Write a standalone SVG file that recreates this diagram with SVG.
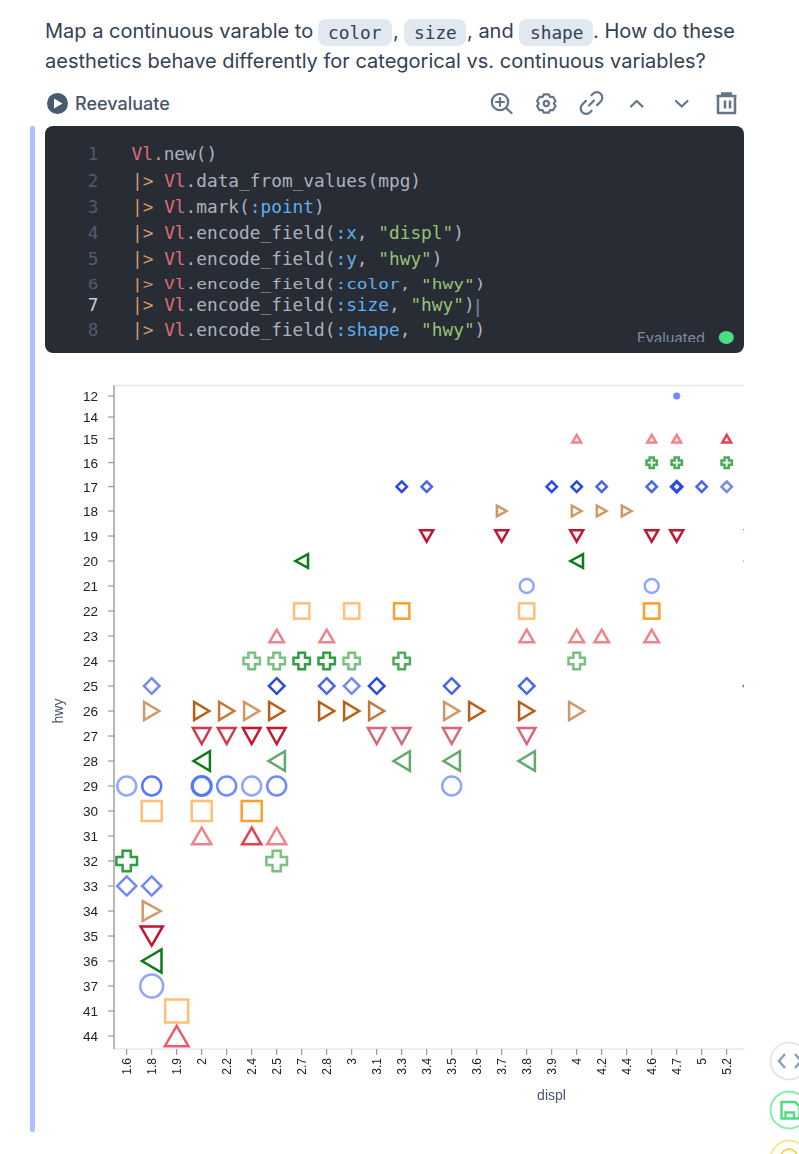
<svg xmlns="http://www.w3.org/2000/svg" width="799" height="1154" viewBox="0 0 799 1154">
<style>
text{white-space:pre}
.q{font:400 20px Inter,"Liberation Sans",sans-serif;fill:#334155}
.pill{fill:#e2e8f0}
.pt{font:17.8px "DejaVu Sans Mono","Liberation Mono",monospace;fill:#334155}
.ic{fill:none;stroke:#64748b;stroke-width:2.2;stroke-linecap:round;stroke-linejoin:round}
.c{font:17.8px "DejaVu Sans Mono","Liberation Mono",monospace;fill:#abb2bf}
.n{fill:#4f5b71;text-anchor:middle}
.r{fill:#e06c75}.o{fill:#d19a66}.b{fill:#61afef}.g{fill:#98c379}
.yl{font:13.5px "Liberation Sans",Arial,sans-serif;fill:#222;text-anchor:end}
.xl{font:12px "Liberation Sans",Arial,sans-serif;fill:#222;text-anchor:end}
.ttl{font:14px "Liberation Sans",Arial,sans-serif;fill:#475569;text-anchor:middle}
.tk{stroke:#888;stroke-width:1}
.m{fill:none;stroke-width:2.5}
.a{opacity:.65}.e{opacity:.85}.f{opacity:1}
.up{stroke:#e4434f}.sq{stroke:#ff9d2e}.ci{stroke:#5577ff}.lf{stroke:#0f7a1a}.dn{stroke:#c4162e}.rt{stroke:#b85f15}.di{stroke:#2a4be0}.cr{stroke:#2f9e3f}
</style>
<defs>
<filter id="soft" x="-2%" y="-2%" width="104%" height="104%"><feGaussianBlur stdDeviation="0.4"/></filter>
<clipPath id="plot"><rect x="110" y="380" width="634" height="690"/></clipPath>
<clipPath id="evalclip"><rect x="620" y="325" width="100" height="17"/></clipPath>
<path id="r15" d="M0,-3.8L4.4,3.8L-4.4,3.8Z"/>
<path id="r23" d="M0,-6.3L7.3,6.3L-7.3,6.3Z"/>
<path id="r31" d="M0,-8.3L9.6,8.3L-9.6,8.3Z"/>
<path id="r44" d="M0,-10.2L11.8,10.2L-11.8,10.2Z"/>
<path id="r19" d="M0,5.7L6.5,-5.7L-6.5,-5.7Z"/>
<path id="r27" d="M0,8L8.8,-8L-8.8,-8Z"/>
<path id="r35" d="M0,9.6L11.1,-9.6L-11.1,-9.6Z"/>
<path id="r18" d="M4.85,0L-4.85,-5.3L-4.85,5.3Z"/>
<path id="r26" d="M7.6,0L-7.6,-9.1L-7.6,9.1Z"/>
<path id="r34" d="M9,0L-9,-9.9L-9,9.9Z"/>
<path id="r20" d="M-6.3,0L6.3,-6.8L6.3,6.8Z"/>
<path id="r28" d="M-8.2,0L8.2,-9.8L8.2,9.8Z"/>
<path id="r36" d="M-9.8,0L9.8,-11.6L9.8,11.6Z"/>
<rect id="r22" x="-7.65" y="-7.65" width="15.3" height="15.3"/>
<rect id="r30" x="-10" y="-10" width="20" height="20"/>
<rect id="r41" x="-11.5" y="-11.5" width="23" height="23"/>
<circle id="r12" r="1.8"/>
<circle id="r21" r="7"/>
<circle id="r29" r="9.5"/>
<circle id="r37" r="11.5"/>
<path id="r17" d="M0,-5.2L5.2,0L0,5.2L-5.2,0Z"/>
<path id="r25" d="M0,-7.8L7.8,0L0,7.8L-7.8,0Z"/>
<path id="r33" d="M0,-9.6L9.6,0L0,9.6L-9.6,0Z"/>
<path id="r16" d="M-5.2,-2.1H-2.1V-5.2H2.1V-2.1H5.2V2.1H2.1V5.2H-2.1V2.1H-5.2Z"/>
<path id="r24" d="M-8.2,-3.3H-3.3V-8.2H3.3V-3.3H8.2V3.3H3.3V8.2H-3.3V3.3H-8.2Z"/>
<path id="r32" d="M-10.3,-4.1H-4.1V-10.3H4.1V-4.1H10.3V4.1H4.1V10.3H-4.1V4.1H-10.3Z"/>
</defs>
<rect width="799" height="1154" fill="#fff"/>

<g id="question">
<rect class="pill" x="318" y="19" width="74" height="27" rx="8"/>
<rect class="pill" x="404" y="19" width="62" height="27" rx="8"/>
<rect class="pill" x="519" y="19" width="74" height="27" rx="8"/>
<text class="q" x="45" y="38">Map a continuous varable to</text>
<text class="pt" x="328" y="38.5">color</text>
<text class="q" x="393" y="38">,</text>
<text class="pt" x="414" y="38.5">size</text>
<text class="q" x="467" y="38">, and</text>
<text class="pt" x="530" y="38.5">shape</text>
<text class="q" x="593" y="38">. How do these</text>
<text class="q" x="45" y="68">aesthetics behave differently for categorical vs. continuous variables?</text>
</g>

<g id="toolbar">
<circle cx="57.5" cy="103.5" r="10.5" fill="#475a70"/>
<path d="M54,98.5L62.5,103.5L54,108.5Z" fill="#fff"/>
<text x="75" y="110" style="font:500 18px Inter,'Liberation Sans',sans-serif;fill:#475569">Reevaluate</text>
<g class="ic">
<circle cx="500" cy="102" r="8.2"/><path d="M506,108L511.5,113M500,98V106M496,102H504"/>
<path transform="translate(546.3,103.5)" d="M-2.46,-9.18L2.46,-9.18L3.75,-6.5L6.72,-6.72L9.18,-2.46L7.5,0L9.18,2.46L6.72,6.72L3.75,6.5L2.46,9.18L-2.46,9.18L-3.75,6.5L-6.72,6.72L-9.18,2.46L-7.5,0L-9.18,-2.46L-6.72,-6.72L-3.75,-6.5Z"/><circle cx="546.3" cy="103.5" r="2.6"/>
<path transform="rotate(-45 591.5 103)" d="M589,97.5H584A5.5,5.5 0 0 0 584,108.5H586M594,108.5H599A5.5,5.5 0 0 0 599,97.5H597M588,103H595"/>
<path d="M631,106.5L636.7,101L642.5,106.5"/>
<path d="M676,101L681.7,106.5L687.5,101"/>
<path d="M718,96.5V113H735V96.5M716.5,96H736.5M725,100.5V108.5M730,100.5V108.5M721,93.5H732" style="stroke-linecap:butt;stroke-width:2.5"/>
</g>
</g>

<rect id="cell-bar" x="30" y="126" width="5" height="1006" rx="2" fill="#b0bfff"/>

<g id="code">
<rect x="45" y="126" width="699" height="227" rx="8" fill="#282c34"/>
<text class="c n" x="93" y="160">1</text>
<text class="c n" x="93" y="186.7">2</text>
<text class="c n" x="93" y="213">3</text>
<text class="c n" x="93" y="239">4</text>
<text class="c n" x="93" y="265">5</text>
<text class="c n" transform="translate(93,289) scale(1,.75)">6</text>
<text class="c n" x="93" y="311" style="fill:#c8ccd4">7</text>
<text class="c n" x="93" y="336">8</text>
<text class="c" x="131.5" y="160"><tspan class="r">Vl</tspan><tspan class="o">.</tspan>new()</text>
<text class="c" x="132" y="186.7"><tspan class="o">|&gt; </tspan><tspan class="r">Vl</tspan>.data_from_values(mpg)</text>
<text class="c" x="132" y="213"><tspan class="o">|&gt; </tspan><tspan class="r">Vl</tspan>.mark(<tspan class="b">:point</tspan>)</text>
<text class="c" x="132" y="239"><tspan class="o">|&gt; </tspan><tspan class="r">Vl</tspan>.encode_field(<tspan class="b">:x</tspan>, <tspan class="g">"displ"</tspan>)</text>
<text class="c" x="132" y="265"><tspan class="o">|&gt; </tspan><tspan class="r">Vl</tspan>.encode_field(<tspan class="b">:y</tspan>, <tspan class="g">"hwy"</tspan>)</text>
<text class="c" transform="translate(132,289) scale(1,.75)"><tspan class="o">|&gt; </tspan><tspan class="r">Vl</tspan>.encode_field(<tspan class="b">:color</tspan>, <tspan class="g">"hwy"</tspan>)</text>
<text class="c" x="132" y="311"><tspan class="o">|&gt; </tspan><tspan class="r">Vl</tspan>.encode_field(<tspan class="b">:size</tspan>, <tspan class="g">"hwy"</tspan>)</text>
<text class="c" x="132" y="336"><tspan class="o">|&gt; </tspan><tspan class="r">Vl</tspan>.encode_field(<tspan class="b">:shape</tspan>, <tspan class="g">"hwy"</tspan>)</text>
<rect x="476.5" y="299" width="2.5" height="18" fill="#5f6a85"/>
<g clip-path="url(#evalclip)"><text x="637" y="343" style="font:14.7px Inter,'Liberation Sans',sans-serif;fill:#7d8ca3">Evaluated</text></g>
<ellipse cx="726.3" cy="337.4" rx="7.5" ry="6.5" fill="#4ade80"/>
</g>

<g id="chart" filter="url(#soft)">
<g id="axes">
<path d="M114,385.5H744" stroke="#e8e8e8" stroke-width="1.5"/>
<path d="M114,1049H744" stroke="#e5eaf2" stroke-width="1.5"/>
<path d="M114,385.5V1049" stroke="#888" stroke-width="1.2"/>
<g class="tk">
<path d="M108,396H114M108,417H114M108,438.7H114M108,462.7H114M108,486.7H114M108,511H114M108,536H114M108,561H114M108,586H114M108,611H114M108,636H114M108,661H114M108,686H114M108,711H114M108,736H114M108,761H114M108,786H114M108,811H114M108,836H114M108,861H114M108,886H114M108,911H114M108,936H114M108,961H114M108,986H114M108,1011H114M108,1036H114"/>
<path d="M126.7,1049V1055M151.7,1049V1055M176.7,1049V1055M201.7,1049V1055M226.7,1049V1055M251.7,1049V1055M276.7,1049V1055M301.7,1049V1055M326.7,1049V1055M351.7,1049V1055M376.7,1049V1055M401.7,1049V1055M426.7,1049V1055M451.7,1049V1055M476.7,1049V1055M501.7,1049V1055M526.7,1049V1055M551.7,1049V1055M576.7,1049V1055M601.7,1049V1055M626.7,1049V1055M651.7,1049V1055M676.7,1049V1055M701.7,1049V1055M726.7,1049V1055"/>
</g>
<g>
<text class="yl" x="98" y="401">12</text><text class="yl" x="98" y="422">14</text><text class="yl" x="98" y="444">15</text><text class="yl" x="98" y="468">16</text><text class="yl" x="98" y="491.5">17</text><text class="yl" x="98" y="516">18</text><text class="yl" x="98" y="541">19</text><text class="yl" x="98" y="566">20</text><text class="yl" x="98" y="591">21</text><text class="yl" x="98" y="616">22</text><text class="yl" x="98" y="641">23</text><text class="yl" x="98" y="666">24</text><text class="yl" x="98" y="691">25</text><text class="yl" x="98" y="716">26</text><text class="yl" x="98" y="741">27</text><text class="yl" x="98" y="766">28</text><text class="yl" x="98" y="791">29</text><text class="yl" x="98" y="816">30</text><text class="yl" x="98" y="841">31</text><text class="yl" x="98" y="866">32</text><text class="yl" x="98" y="891">33</text><text class="yl" x="98" y="916">34</text><text class="yl" x="98" y="941">35</text><text class="yl" x="98" y="966">36</text><text class="yl" x="98" y="991">37</text><text class="yl" x="98" y="1016">41</text><text class="yl" x="98" y="1041">44</text>
</g>
<g>
<text class="xl" transform="translate(131,1058) rotate(-90)">1.6</text><text class="xl" transform="translate(156,1058) rotate(-90)">1.8</text><text class="xl" transform="translate(181,1058) rotate(-90)">1.9</text><text class="xl" transform="translate(206,1058) rotate(-90)">2</text><text class="xl" transform="translate(231,1058) rotate(-90)">2.2</text><text class="xl" transform="translate(256,1058) rotate(-90)">2.4</text><text class="xl" transform="translate(281,1058) rotate(-90)">2.5</text><text class="xl" transform="translate(306,1058) rotate(-90)">2.7</text><text class="xl" transform="translate(331,1058) rotate(-90)">2.8</text><text class="xl" transform="translate(356,1058) rotate(-90)">3</text><text class="xl" transform="translate(381,1058) rotate(-90)">3.1</text><text class="xl" transform="translate(406,1058) rotate(-90)">3.3</text><text class="xl" transform="translate(431,1058) rotate(-90)">3.4</text><text class="xl" transform="translate(456,1058) rotate(-90)">3.5</text><text class="xl" transform="translate(481,1058) rotate(-90)">3.6</text><text class="xl" transform="translate(506,1058) rotate(-90)">3.7</text><text class="xl" transform="translate(531,1058) rotate(-90)">3.8</text><text class="xl" transform="translate(556,1058) rotate(-90)">3.9</text><text class="xl" transform="translate(581,1058) rotate(-90)">4</text><text class="xl" transform="translate(606,1058) rotate(-90)">4.2</text><text class="xl" transform="translate(631,1058) rotate(-90)">4.4</text><text class="xl" transform="translate(656,1058) rotate(-90)">4.6</text><text class="xl" transform="translate(681,1058) rotate(-90)">4.7</text><text class="xl" transform="translate(706,1058) rotate(-90)">5</text><text class="xl" transform="translate(731,1058) rotate(-90)">5.2</text>
</g>
<text class="ttl" x="551.5" y="1099.5">displ</text>
<text class="ttl" transform="translate(63,711) rotate(-90)">hwy</text>
</g>

<g id="marks" clip-path="url(#plot)">
<g class="m ci"><use href="#r12" x="676.7" y="396" class="e" style="stroke-width:3.6"/></g>
<g class="m up"><use href="#r15" x="576.7" y="438.7" class="a"/><use href="#r15" x="651.7" y="438.7" class="a"/><use href="#r15" x="676.7" y="438.7" class="a"/><use href="#r15" x="726.7" y="438.7" class="f"/></g>
<g class="m cr"><use href="#r16" x="651.7" y="462.7" class="e"/><use href="#r16" x="676.7" y="462.7" class="e"/><use href="#r16" x="726.7" y="462.7" class="e"/></g>
<g class="m di"><use href="#r17" x="401.7" y="486.7" class="f"/><use href="#r17" x="426.7" y="486.7" class="e"/><use href="#r17" x="551.7" y="486.7" class="f"/><use href="#r17" x="576.7" y="486.7" class="f"/><use href="#r17" x="601.7" y="486.7" class="e"/><use href="#r17" x="651.7" y="486.7" class="e"/><use href="#r17" x="676.7" y="486.7" class="f" style="stroke-width:3.2"/><use href="#r17" x="701.7" y="486.7" class="e"/><use href="#r17" x="726.7" y="486.7" class="a"/></g>
<g class="m rt"><use href="#r18" x="501.7" y="511" class="a"/><use href="#r18" x="576.7" y="511" class="a"/><use href="#r18" x="601.7" y="511" class="a"/><use href="#r18" x="626.7" y="511" class="a"/></g>
<g class="m dn"><use href="#r19" x="426.7" y="536" class="f"/><use href="#r19" x="501.7" y="536" class="f"/><use href="#r19" x="576.7" y="536" class="f"/><use href="#r19" x="651.7" y="536" class="f"/><use href="#r19" x="676.7" y="536" class="f"/><use href="#r19" x="751.7" y="536" class="e"/></g>
<g class="m lf"><use href="#r20" x="301.7" y="561" class="f"/><use href="#r20" x="576.7" y="561" class="f"/><use href="#r20" x="751.7" y="561" class="a"/></g>
<g class="m ci"><use href="#r21" x="526.7" y="586" class="a"/><use href="#r21" x="651.7" y="586" class="a"/></g>
<g class="m sq"><use href="#r22" x="301.7" y="611" class="a"/><use href="#r22" x="351.7" y="611" class="a"/><use href="#r22" x="401.7" y="611" class="f"/><use href="#r22" x="526.7" y="611" class="a"/><use href="#r22" x="651.7" y="611" class="f"/></g>
<g class="m up"><use href="#r23" x="276.7" y="636" class="a"/><use href="#r23" x="326.7" y="636" class="a"/><use href="#r23" x="526.7" y="636" class="a"/><use href="#r23" x="576.7" y="636" class="a"/><use href="#r23" x="601.7" y="636" class="a"/><use href="#r23" x="651.7" y="636" class="a"/></g>
<g class="m cr"><use href="#r24" x="251.7" y="661" class="a"/><use href="#r24" x="276.7" y="661" class="a"/><use href="#r24" x="301.7" y="661" class="f"/><use href="#r24" x="326.7" y="661" class="f"/><use href="#r24" x="351.7" y="661" class="a"/><use href="#r24" x="401.7" y="661" class="e"/><use href="#r24" x="576.7" y="661" class="a"/></g>
<g class="m di"><use href="#r25" x="151.7" y="686" class="a"/><use href="#r25" x="276.7" y="686" class="f"/><use href="#r25" x="326.7" y="686" class="e"/><use href="#r25" x="351.7" y="686" class="a"/><use href="#r25" x="376.7" y="686" class="f"/><use href="#r25" x="451.7" y="686" class="e"/><use href="#r25" x="526.7" y="686" class="e"/><use href="#r25" x="751.7" y="686" class="e"/></g>
<g class="m rt"><use href="#r26" x="151.7" y="711" class="a"/><use href="#r26" x="201.7" y="711" class="f"/><use href="#r26" x="226.7" y="711" class="e"/><use href="#r26" x="251.7" y="711" class="a"/><use href="#r26" x="276.7" y="711" class="f"/><use href="#r26" x="326.7" y="711" class="f"/><use href="#r26" x="351.7" y="711" class="f"/><use href="#r26" x="376.7" y="711" class="e"/><use href="#r26" x="451.7" y="711" class="a"/><use href="#r26" x="476.7" y="711" class="f"/><use href="#r26" x="526.7" y="711" class="f"/><use href="#r26" x="576.7" y="711" class="a"/></g>
<g class="m dn"><use href="#r27" x="201.7" y="736" class="e"/><use href="#r27" x="226.7" y="736" class="e"/><use href="#r27" x="251.7" y="736" class="f"/><use href="#r27" x="276.7" y="736" class="f"/><use href="#r27" x="376.7" y="736" class="a"/><use href="#r27" x="401.7" y="736" class="a"/><use href="#r27" x="451.7" y="736" class="a"/><use href="#r27" x="526.7" y="736" class="a"/></g>
<g class="m lf"><use href="#r28" x="201.7" y="761" class="f"/><use href="#r28" x="276.7" y="761" class="a"/><use href="#r28" x="401.7" y="761" class="a"/><use href="#r28" x="451.7" y="761" class="a"/><use href="#r28" x="526.7" y="761" class="a"/></g>
<g class="m ci"><use href="#r29" x="126.7" y="786" class="a"/><use href="#r29" x="151.7" y="786" class="f"/><use href="#r29" x="201.7" y="786" class="f" style="stroke-width:3.2"/><use href="#r29" x="226.7" y="786" class="e"/><use href="#r29" x="251.7" y="786" class="a"/><use href="#r29" x="276.7" y="786" class="e"/><use href="#r29" x="451.7" y="786" class="a"/></g>
<g class="m sq"><use href="#r30" x="151.7" y="811" class="a"/><use href="#r30" x="201.7" y="811" class="a"/><use href="#r30" x="251.7" y="811" class="f"/></g>
<g class="m up"><use href="#r31" x="201.7" y="836" class="a"/><use href="#r31" x="251.7" y="836" class="f"/><use href="#r31" x="276.7" y="836" class="a"/></g>
<g class="m cr"><use href="#r32" x="126.7" y="861" class="f"/><use href="#r32" x="276.7" y="861" class="a"/></g>
<g class="m di"><use href="#r33" x="126.7" y="886" class="a"/><use href="#r33" x="151.7" y="886" class="a"/></g>
<g class="m rt"><use href="#r34" x="151.7" y="911" class="a"/></g>
<g class="m dn"><use href="#r35" x="151.7" y="936" class="f"/></g>
<g class="m lf"><use href="#r36" x="151.7" y="961" class="f"/></g>
<g class="m ci"><use href="#r37" x="151.7" y="986" class="a"/></g>
<g class="m sq"><use href="#r41" x="176.7" y="1011" class="a"/></g>
<g class="m up"><use href="#r44" x="176.7" y="1036" class="e"/></g>
</g>
</g>

<g id="side-buttons" fill="#fff" stroke-width="2">
<circle cx="789" cy="1061" r="18.5" stroke="#e2e8f0"/>
<path d="M785,1054L779,1061L785,1068M795,1054L801,1061L795,1068" fill="none" stroke="#8aa0bb" stroke-width="2.5"/>
<circle cx="789" cy="1110" r="18.5" stroke="#86efac"/>
<path d="M781.5,1102H795L799.5,1106V1118.5H781.5ZM785.5,1118.5V1112.5H794V1118.5" fill="none" stroke="#4ade80" stroke-width="2.4"/>
<circle cx="789" cy="1159" r="18.5" stroke="#fde68a"/>
<circle cx="789" cy="1157" r="8" fill="none" stroke="#fcd34d"/>
</g>
</svg>
